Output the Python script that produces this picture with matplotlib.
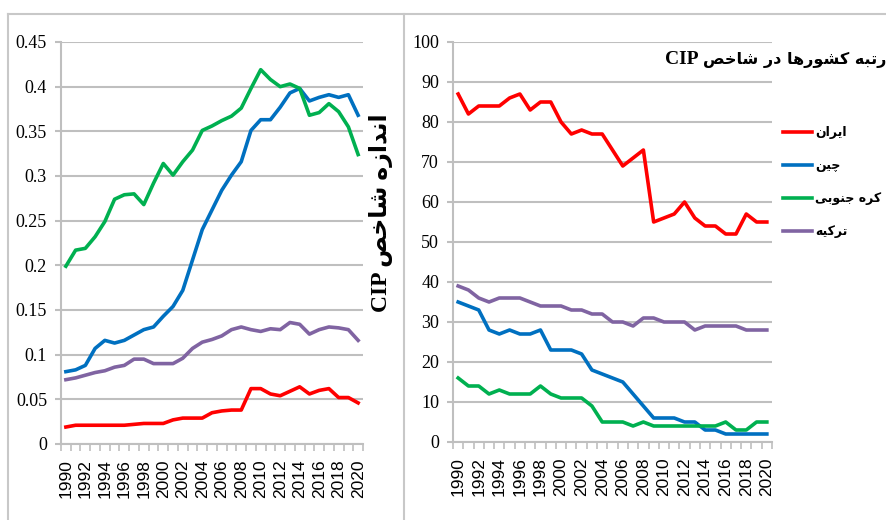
import numpy as np
import matplotlib
matplotlib.use('Agg')
import matplotlib.pyplot as plt
from matplotlib.lines import Line2D

# data
years = np.arange(1990, 2021)
year_labels = [str(y) for y in range(1990, 2021, 2)]

iran_cip = [0.019, 0.021, 0.021, 0.021, 0.021, 0.021, 0.021, 0.022, 0.023, 0.023, 0.023,
            0.027, 0.029, 0.029, 0.029, 0.035, 0.037, 0.038, 0.038, 0.062, 0.062,
            0.056, 0.054, 0.059, 0.064, 0.056, 0.060, 0.062, 0.052, 0.052, 0.046]
china_cip = [0.081, 0.083, 0.088, 0.107, 0.116, 0.113, 0.116, 0.122, 0.128, 0.131, 0.143,
             0.154, 0.172, 0.206, 0.240, 0.262, 0.284, 0.301, 0.316, 0.351, 0.363,
             0.363, 0.377, 0.393, 0.398, 0.384, 0.388, 0.391, 0.388, 0.391, 0.368]
korea_cip = [0.199, 0.217, 0.219, 0.232, 0.249, 0.274, 0.279, 0.280, 0.268, 0.292, 0.314,
             0.301, 0.316, 0.329, 0.351, 0.356, 0.362, 0.367, 0.376, 0.398, 0.419,
             0.408, 0.400, 0.403, 0.398, 0.368, 0.371, 0.381, 0.372, 0.355, 0.324]
turkey_cip = [0.072, 0.074, 0.077, 0.080, 0.082, 0.086, 0.088, 0.095, 0.095, 0.090, 0.090,
              0.090, 0.096, 0.107, 0.114, 0.117, 0.121, 0.128, 0.131, 0.128, 0.126,
              0.129, 0.128, 0.136, 0.134, 0.123, 0.128, 0.131, 0.130, 0.128, 0.116]

iran_rank = [87, 82, 84, 84, 84, 86, 87, 83, 85, 85, 80, 77, 78, 77, 77, 73,
             69, 71, 73, 55, 56, 57, 60, 56, 54, 54, 52, 52, 57, 55, 55]
china_rank = [35, 34, 33, 28, 27, 28, 27, 27, 28, 23, 23, 23, 22, 18, 17, 16,
              15, 12, 9, 6, 6, 6, 5, 5, 3, 3, 2, 2, 2, 2, 2]
korea_rank = [16, 14, 14, 12, 13, 12, 12, 12, 14, 12, 11, 11, 11, 9, 5, 5,
              5, 4, 5, 4, 4, 4, 4, 4, 4, 4, 5, 3, 3, 5, 5]
turkey_rank = [39, 38, 36, 35, 36, 36, 36, 35, 34, 34, 34, 33, 33, 32, 32, 30,
               30, 29, 31, 31, 30, 30, 30, 28, 29, 29, 29, 29, 28, 28, 28]

cip_ticks = [0, 0.05, 0.1, 0.15, 0.2, 0.25, 0.3, 0.35, 0.4, 0.45]
cip_tick_labels = ['0', '0.05', '0.1', '0.15', '0.2', '0.25', '0.3', '0.35', '0.4', '0.45']
rank_ticks = list(range(0, 101, 10))

countries = ['ایران', 'چین', 'کره جنوبی', 'ترکیه']
colors = ['#FF0000', '#0070C0', '#00B050', '#8064A2']
title_fa = 'رتبه کشورها در شاخص'
ylabel_fa = 'اندازه شاخص'


# matplotlib does no arabic shaping, so do it by hand (isolated, final, initial, medial)
FORMS = {
    'ا': ('\uFE8D', '\uFE8E', None, None),
    'د': ('\uFEA9', '\uFEAA', None, None),
    'ر': ('\uFEAD', '\uFEAE', None, None),
    'ز': ('\uFEAF', '\uFEB0', None, None),
    'و': ('\uFEED', '\uFEEE', None, None),
    'ب': ('\uFE8F', '\uFE90', '\uFE91', '\uFE92'),
    'ت': ('\uFE95', '\uFE96', '\uFE97', '\uFE98'),
    'ج': ('\uFE9D', '\uFE9E', '\uFE9F', '\uFEA0'),
    'خ': ('\uFEA5', '\uFEA6', '\uFEA7', '\uFEA8'),
    'ش': ('\uFEB5', '\uFEB6', '\uFEB7', '\uFEB8'),
    'ص': ('\uFEB9', '\uFEBA', '\uFEBB', '\uFEBC'),
    'ن': ('\uFEE5', '\uFEE6', '\uFEE7', '\uFEE8'),
    'ه': ('\uFEE9', '\uFEEA', '\uFEEB', '\uFEEC'),
    'ک': ('\uFB8E', '\uFB8F', '\uFB90', '\uFB91'),
    'چ': ('\uFB7A', '\uFB7B', '\uFB7C', '\uFB7D'),
    'ی': ('\uFBFC', '\uFBFD', '\uFBFE', '\uFBFF'),
}


def fa(s):
    out = []
    for i, ch in enumerate(s):
        if ch not in FORMS:
            out.append(ch)
            continue
        prev = s[i - 1] if i > 0 else None
        nxt = s[i + 1] if i + 1 < len(s) else None
        join_prev = prev in FORMS and FORMS[prev][2] is not None
        join_next = nxt in FORMS and FORMS[ch][2] is not None
        iso, fin, ini, med = FORMS[ch]
        if join_prev and join_next:
            out.append(med)
        elif join_prev:
            out.append(fin)
        elif join_next:
            out.append(ini)
        else:
            out.append(iso)
    return ''.join(out)[::-1]


W, H = 886, 520
fig = plt.figure(figsize=(W / 100, H / 100), dpi=100)


def box(x0, x1, y_top, y_bot):
    # pixel box -> figure fraction [left, bottom, width, height]
    return [x0 / W, 1 - y_bot / H, (x1 - x0) / W, (y_bot - y_top) / H]


ax1 = fig.add_axes(box(61, 363, 42, 444))
ax2 = fig.add_axes(box(453, 772, 42, 442))

grid_c = '#BFBFBF'
serif = ['Liberation Serif', 'DejaVu Serif']
for ax in (ax1, ax2):
    for side in ('top', 'right'):
        ax.spines[side].set_visible(False)
    for side in ('left', 'bottom'):
        ax.spines[side].set_color(grid_c)
        ax.spines[side].set_linewidth(1.5)
    ax.set_xlim(1989.5, 2020.5)
    ax.set_xticks(range(1990, 2021, 2))
    ax.set_xticklabels(year_labels, rotation=90, family='Liberation Sans', fontsize=12.5)
    ax.set_xticks(np.arange(1989.5, 2021, 1), minor=True)
    ax.tick_params(axis='x', which='major', length=0, pad=11)
    ax.tick_params(axis='x', which='minor', length=5, width=1.2, color=grid_c)
    ax.tick_params(axis='y', length=4, width=1.5, color=grid_c, pad=6)
    ax.grid(axis='y', color=grid_c, linewidth=1.5)
    ax.set_axisbelow(True)

ax1.set_ylim(0, 0.45)
ax1.set_yticks(cip_ticks)
ax1.set_yticklabels(cip_tick_labels, family=serif, fontsize=13)
ax2.set_ylim(0, 100)
ax2.set_yticks(rank_ticks)
ax2.set_yticklabels([str(t) for t in rank_ticks], family=serif, fontsize=13)

cip_series = [iran_cip, china_cip, korea_cip, turkey_cip]
rank_series = [iran_rank, china_rank, korea_rank, turkey_rank]
handles = []
for vals, c in zip(cip_series, colors):
    ax1.plot(years, vals, color=c, linewidth=2.6, solid_joinstyle='round', clip_on=False)
for vals, c in zip(rank_series, colors):
    h, = ax2.plot(years, vals, color=c, linewidth=2.6, solid_joinstyle='round', clip_on=False)
    handles.append(h)

fig.legend(handles, [fa(c) for c in countries], loc='upper left',
           bbox_to_anchor=(772 / W, 1 - 115 / H), frameon=False,
           prop={'family': ['DejaVu Sans'], 'weight': 'bold', 'size': 9},
           handlelength=2.3, handletextpad=0.25, labelspacing=1.6)

# title of the right chart: latin part and persian part set separately
fig.text(698 / W, 1 - 60 / H, 'CIP', ha='right', va='center',
         family='Liberation Serif', weight='bold', fontsize=14)
fig.text(703 / W, 1 - 60 / H, fa(title_fa), ha='left', va='center',
         family='DejaVu Sans', weight='bold', fontsize=11.5)
fig.text(381 / W, 1 - 213 / H, 'CIP ' + fa(ylabel_fa), ha='center', va='center',
         rotation=90, family=['Liberation Serif', 'DejaVu Sans'], weight='bold', fontsize=17)

# the two chart frames
frame_c = '#C8C8C8'
for xs, ys in [((8, W), (14, 14)), ((8, 8), (14, H)), ((404, 404), (14, H))]:
    fig.add_artist(Line2D([x / W for x in xs], [1 - y / H for y in ys],
                          color=frame_c, linewidth=1.5, transform=fig.transFigure))

fig.savefig('out.png', dpi=100)
